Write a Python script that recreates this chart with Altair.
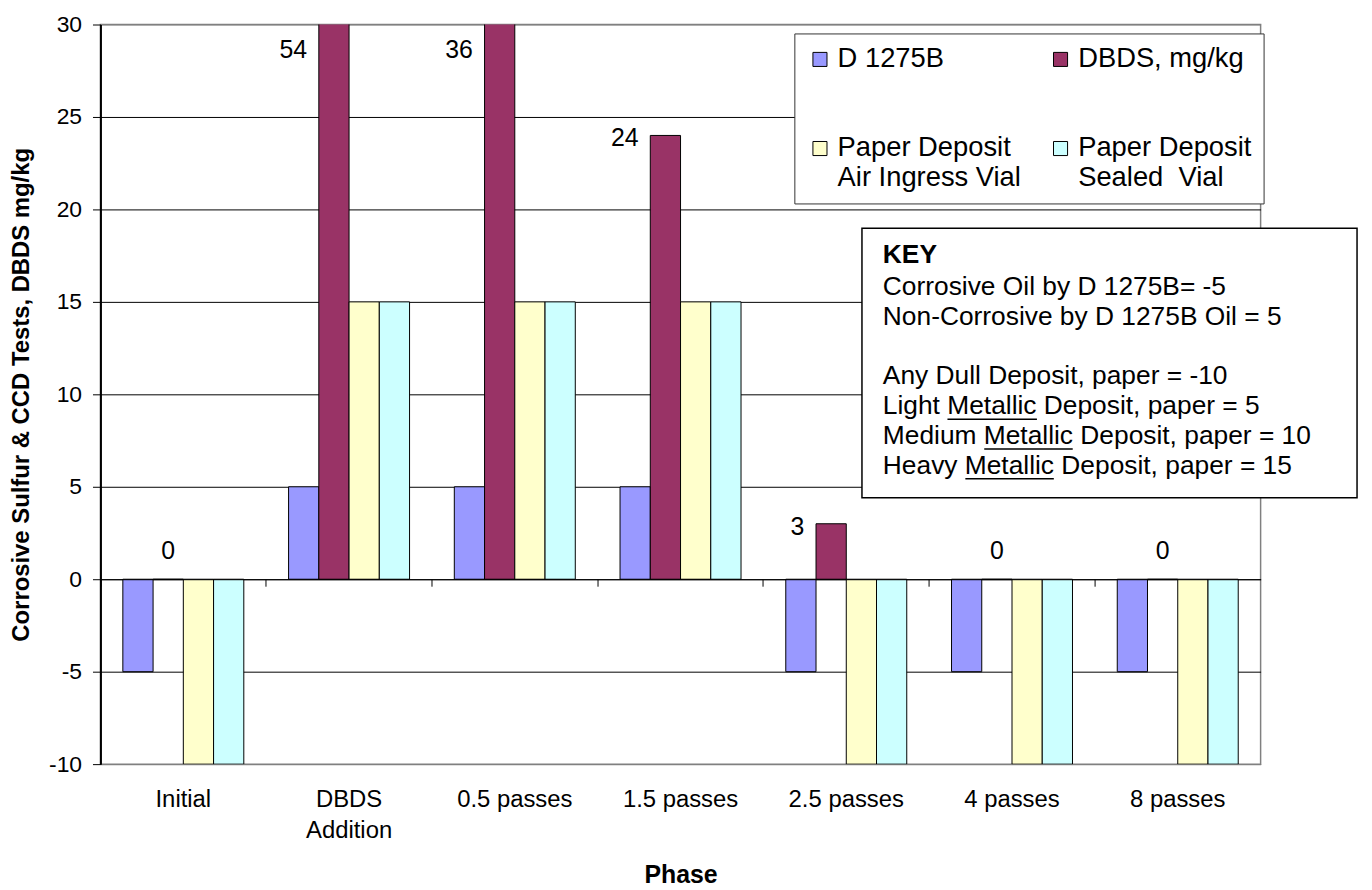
import altair as alt
import pandas as pd

# ---------------- data ----------------
phases = ["Initial", "DBDS|Addition", "0.5 passes", "1.5 passes",
          "2.5 passes", "4 passes", "8 passes"]
series = ["D 1275B", "DBDS, mg/kg",
          "Paper Deposit|Air Ingress Vial", "Paper Deposit|Sealed\u00a0 Vial"]
d1275b = [-5, 5, 5, 5, -5, -5, -5]
dbds = [0, 54, 36, 24, 3, 0, 0]
paper_air = [-10, 15, 15, 15, -10, -10, -10]
paper_sealed = [-10, 15, 15, 15, -10, -10, -10]
colors = ["#9999FF", "#993366", "#FFFFCC", "#CCFFFF"]
y_ticks = [-10, -5, 0, 5, 10, 15, 20, 25, 30]

key_title = "KEY"
key_lines_a = ["Corrosive Oil by D 1275B= -5",
               "Non-Corrosive by D 1275B Oil = 5"]
key_lines_b = ["Any Dull Deposit, paper = -10",
               "Light Metallic Deposit, paper = 5",
               "Medium Metallic Deposit, paper = 10",
               "Heavy Metallic Deposit, paper = 15"]

rows = []
for s, vals in zip(series, [d1275b, dbds, paper_air, paper_sealed]):
    for p, v in zip(phases, vals):
        rows.append({"phase": p, "series": s, "value": v})
df = pd.DataFrame(rows)

FONT = "Liberation Sans"
W, H = 1167, 744
KEYFS = 26.5

xscale = alt.Scale(domain=phases, paddingInner=0, paddingOuter=0)
xoff = alt.XOffset("series:N", sort=series,
                   scale=alt.Scale(domain=series, paddingInner=0, paddingOuter=0.74))
yaxis = alt.Axis(values=y_ticks, title="Corrosive Sulfur & CCD Tests, DBDS mg/kg",
                 titleFontSize=24, titleFontWeight="bold", titleX=-79, titleY=H / 2,
                 titleAngle=270, titleAlign="center", titleBaseline="middle",
                 labelExpr="'' + datum.value",
                 labelFontSize=23, labelPadding=11, tickSize=8, tickColor="black",
                 domainColor="black", domainWidth=2, grid=True,
                 gridColor={"condition": {"test": "datum.value === 30 || datum.value === -10",
                                          "value": "#808080"}, "value": "black"},
                 gridWidth=1)
yenc = alt.Y("value:Q", scale=alt.Scale(domain=[-10, 30], nice=False), axis=yaxis)

bars = alt.Chart(df).mark_bar(clip=True, stroke="black", strokeWidth=1).encode(
    x=alt.X("phase:N", sort=phases, scale=xscale,
            axis=alt.Axis(orient="bottom", title="Phase", titleFontSize=25,
                          titleFontWeight="bold", titleY=111, titleBaseline="middle",
                          labelExpr="split(datum.label, '|')", labelFontSize=24,
                          labelAngle=0, labelPadding=24, labelLineHeight=31,
                          labelBaseline="top", ticks=False, tickSize=0,
                          domainColor="#808080", domainWidth=1, grid=False)),
    xOffset=xoff,
    y=yenc,
    color=alt.Color("series:N", scale=alt.Scale(domain=series, range=colors),
                    legend=alt.Legend(title=None, orient="none", legendX=698, legendY=9,
                                      columns=2, direction="horizontal",
                                      labelExpr="split(datum.label, '|')",
                                      labelFontSize=27.5, labelLimit=500,
                                      symbolType="square", symbolSize=200,
                                      symbolStrokeColor="black", symbolStrokeWidth=1,
                                      labelOffset=4, rowPadding=61, columnPadding=26,
                                      padding=12, strokeColor="#333333",
                                      fillColor="white")),
)

lab_pos = alt.Chart(df).transform_filter(
    "datum.series == 'DBDS, mg/kg' && datum.value > 0"
).transform_calculate(label="format(datum.value, 'd')").transform_calculate(
    value="min(datum.value, 28.8)"
).mark_text(align="right", baseline="middle", dx=-27, dy=3, fontSize=25).encode(
    x=alt.X("phase:N", sort=phases, scale=xscale, axis=None),
    xOffset=xoff,
    y=yenc,
    text=alt.Text("label:N"),
)

lab_zero = alt.Chart(df).transform_filter(
    "datum.series == 'DBDS, mg/kg' && datum.value == 0"
).mark_text(align="center", baseline="middle", dy=-28, fontSize=25).encode(
    x=alt.X("phase:N", sort=phases, scale=xscale,
            axis=alt.Axis(orient="bottom", offset=-186, labels=False, ticks=True,
                          tickSize=7, tickColor="black", tickWidth=1, bandPosition=0,
                          domainColor="black", domainWidth=1, title=None, grid=False,
                          zindex=1)),
    xOffset=xoff,
    y=yenc,
    text=alt.Text("value:Q", format="d"),
)

one = pd.DataFrame({"k": [0]})
key_box = alt.Chart(one).mark_rect(fill="white", stroke="black", strokeWidth=1.5).encode(
    x=alt.value(766), x2=alt.value(1264), y=alt.value(205), y2=alt.value(476))
key_head = alt.Chart(one).mark_text(align="left", baseline="alphabetic", fontSize=KEYFS,
                                    fontWeight="bold").encode(
    x=alt.value(787), y=alt.value(240), text=alt.value(key_title))
key_body_a = alt.Chart(one).mark_text(align="left", baseline="alphabetic", fontSize=KEYFS,
                                      lineHeight=30).encode(
    x=alt.value(787), y=alt.value(272), text=alt.value(key_lines_a))
key_body_b = alt.Chart(one).mark_text(align="left", baseline="alphabetic", fontSize=KEYFS,
                                      lineHeight=30).encode(
    x=alt.value(787), y=alt.value(362), text=alt.value(key_lines_b))
u1 = alt.Chart(one).mark_rule(color="black", strokeWidth=1.5).encode(
    x=alt.value(852), x2=alt.value(942), y=alt.value(397))
u2 = alt.Chart(one).mark_rule(color="black", strokeWidth=1.5).encode(
    x=alt.value(889), x2=alt.value(978), y=alt.value(427))
u3 = alt.Chart(one).mark_rule(color="black", strokeWidth=1.5).encode(
    x=alt.value(870), x2=alt.value(959), y=alt.value(457))

chart = alt.layer(bars, lab_pos, lab_zero, key_box, key_head, key_body_a, key_body_b,
                  u1, u2, u3).resolve_axis(
    x="independent"
).properties(
    width=W, height=H,
    autosize=alt.AutoSizeParams(type="none"),
    padding={"left": 93, "top": 14, "right": 104, "bottom": 124},
).configure(font=FONT).configure_view(stroke="#808080", strokeWidth=1.5).configure_axis(
    labelColor="black", titleColor="black", labelFont=FONT, titleFont=FONT
).configure_legend(labelFont=FONT).configure_text(font=FONT, color="black")

chart.save("out.html", embed_options={"renderer": "svg", "actions": False})
